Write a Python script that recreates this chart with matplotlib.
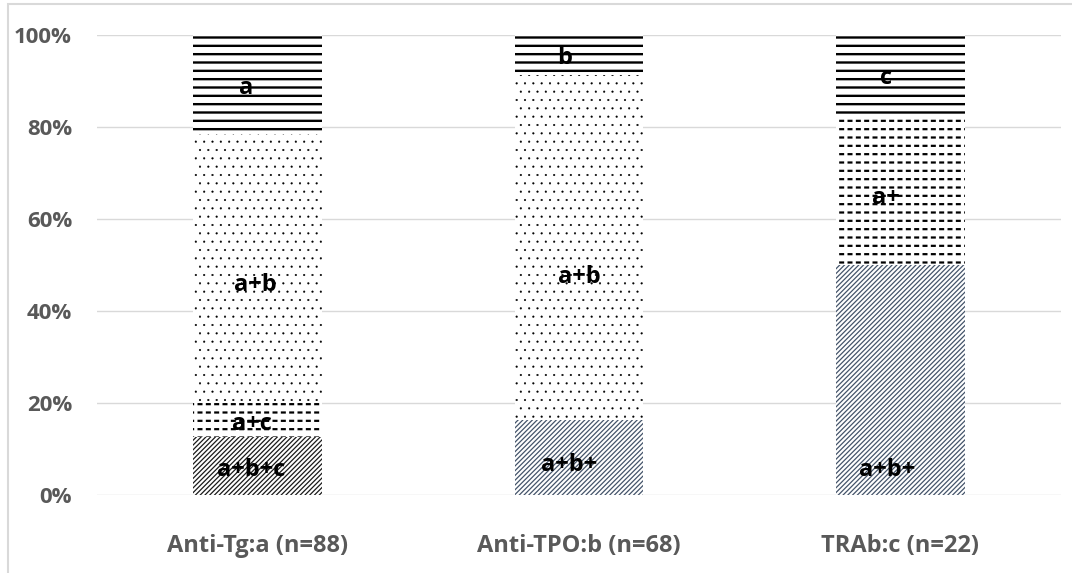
import numpy as np
import matplotlib
matplotlib.use("Agg")
import matplotlib.pyplot as plt
from matplotlib.patches import Rectangle
from matplotlib.ticker import FuncFormatter

plt.rcParams['font.family'] = ['Open Sans', 'DejaVu Sans']

# categories and group sizes
groups = ['Anti-Tg:a (n=88)', 'Anti-TPO:b (n=68)', 'TRAb:c (n=22)']
totals = [88, 68, 22]

# patient counts per segment, bottom to top
diag_counts = [11, 11, 11]
dash_counts = [7, 0, 7]
dot_counts = [51, 51, 0]
line_counts = [19, 6, 4]

# text inside each segment
diag_labels = ['a+b+c', 'a+b+', 'a+b+']
dash_labels = ['a+c', '', 'a+']
dot_labels = ['a+b', 'a+b', '']
line_labels = ['a', 'b', 'c']

# where the segment texts sit (% of bar height)
diag_label_y = [5.4, 6.5, 5.4]
dash_label_y = [15.4, 0, 64.5]
dot_label_y = [45.6, 47.3, 0]
line_label_y = [88.4, 94.9, 90.6]
# small sideways shifts of those texts (category units)
diag_label_dx = [-0.02, -0.03, -0.04]
dash_label_dx = [-0.017, 0, -0.045]
dot_label_dx = [-0.008, 0, 0]
line_label_dx = [-0.035, -0.045, -0.045]

yticks = [0, 20, 40, 60, 80, 100]

grid_col = '#D9D9D9'
tick_col = '#595959'


def set_hatch_lw(bars, lw):
    for b in bars:
        if hasattr(b, 'set_hatch_linewidth'):
            b.set_hatch_linewidth(lw)


fig = plt.figure(figsize=(10.72, 5.73), dpi=100)
ax = fig.add_axes([0.0905, 0.1366, 0.8992, 0.8028])

x = np.arange(len(groups))
tot = np.array(totals, dtype=float)
series = [
    (diag_counts, diag_labels, diag_label_y, diag_label_dx),
    (dash_counts, dash_labels, dash_label_y, dash_label_dx),
    (dot_counts, dot_labels, dot_label_y, dot_label_dx),
    (line_counts, line_labels, line_label_y, line_label_dx),
]

width = 0.4
bottom = np.zeros(len(groups))
for i, (counts, labels, label_y, label_dx) in enumerate(series):
    pct = np.array(counts) / tot * 100
    if i == 0:
        # diagonal stripes: first bar darker than the others
        cols = ['#1a1a1a', '#44546A', '#44546A']
        plt.rcParams['hatch.linewidth'] = 0.9
        bars = ax.bar(x, pct, width, bottom=bottom, color='white',
                      edgecolor=cols, linewidth=0, hatch='///////', zorder=2)
        set_hatch_lw(bars, 0.9)
    elif i == 1:
        # dashed horizontal lines: black lines cut by white verticals
        plt.rcParams['hatch.linewidth'] = 1.6
        bars = ax.bar(x, pct, width, bottom=bottom, color='white',
                      edgecolor='black', linewidth=0, hatch='--', zorder=2)
        set_hatch_lw(bars, 1.6)
        plt.rcParams['hatch.linewidth'] = 2.4
        cut = ax.bar(x, pct, width, bottom=bottom, color='none',
                     edgecolor='white', linewidth=0, hatch='||', zorder=2.1)
        set_hatch_lw(cut, 2.4)
    elif i == 2:
        plt.rcParams['hatch.linewidth'] = 0.3
        bars = ax.bar(x, pct, width, bottom=bottom, color='white',
                      edgecolor='black', linewidth=0, hatch='..', zorder=2)
        set_hatch_lw(bars, 0.3)
    else:
        plt.rcParams['hatch.linewidth'] = 1.7
        bars = ax.bar(x, pct, width, bottom=bottom, color='white',
                      edgecolor='black', linewidth=0, hatch='--', zorder=2)
        set_hatch_lw(bars, 1.7)

    for xi, lab, ly, dx in zip(x, labels, label_y, label_dx):
        if lab:
            ax.text(xi + dx, ly, lab, ha='center', va='center', fontsize=17,
                    fontweight='bold', color='black', zorder=5)
    bottom = bottom + pct

ax.set_xlim(-0.5, len(groups) - 0.5)
ax.set_ylim(0, 100)
ax.set_yticks(yticks)
ax.yaxis.set_major_formatter(FuncFormatter(lambda v, p: f'{v:.0f}%'))
ax.set_xticks(x)
ax.set_xticklabels(groups)

ax.grid(axis='y', color=grid_col, linewidth=1.0)
ax.set_axisbelow(True)
for s in ax.spines.values():
    s.set_visible(False)
ax.tick_params(axis='both', length=0)
ax.tick_params(axis='y', pad=18, labelsize=16, labelcolor=tick_col)
ax.tick_params(axis='x', pad=28, labelsize=17, labelcolor=tick_col)
for t in ax.get_xticklabels() + ax.get_yticklabels():
    t.set_fontweight('bold')

# chart area border (only left and top are inside the picture)
fig.patches.append(Rectangle((8 / 1072, -0.1), 1.2, 0.1 + 1 - 4 / 573,
                             transform=fig.transFigure, fill=False,
                             edgecolor=grid_col, linewidth=1.5))

fig.savefig('out.png', dpi=100)
